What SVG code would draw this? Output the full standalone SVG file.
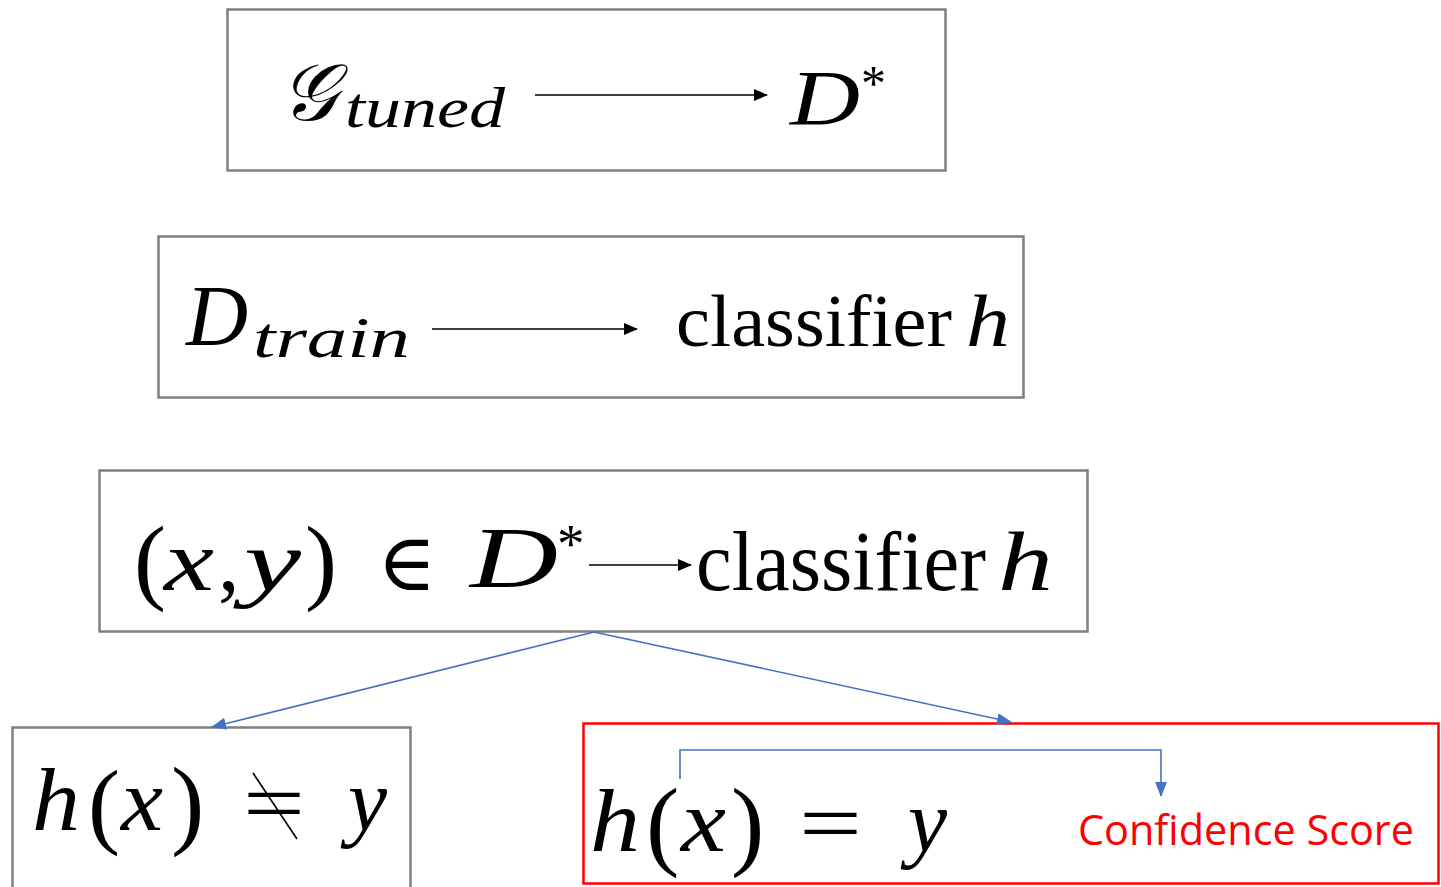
<svg xmlns="http://www.w3.org/2000/svg" width="1441" height="887" viewBox="0 0 1441 887">
<style>
.box{fill:#fff;stroke:#7f7f7f;stroke-width:2.5}
.red{fill:#fff;stroke:#ff0000;stroke-width:2.5}
.m{font-family:"Liberation Serif","DejaVu Serif",serif;fill:#000}
.i{font-style:italic}
.k{stroke:#000;stroke-width:1.6;fill:none}
.b{stroke:#4472C4;stroke-width:1.6;fill:none}
.cs{font-family:"Open Sans","Liberation Sans",sans-serif;fill:#ff0000}
</style>
<defs>
<marker id="ak" markerWidth="14" markerHeight="12" refX="13" refY="6" orient="auto" markerUnits="userSpaceOnUse" viewBox="0 0 14 12"><path d="M0,0 L14,6 L0,12 Z" fill="#000"/></marker>
<marker id="ab" markerWidth="15" markerHeight="12" refX="14" refY="6" orient="auto" markerUnits="userSpaceOnUse" viewBox="0 0 15 12"><path d="M0,0 L15,6 L0,12 Z" fill="#4472C4"/></marker>
</defs>
<rect width="1441" height="887" fill="#fff"/>
<g id="node-gtuned">
<rect class="box" x="227.5" y="9.5" width="718" height="161"/>
<text class="m i" x="280" y="120" font-size="80">𝒢</text>
<text class="m i" x="345" y="127" font-size="58" textLength="160" lengthAdjust="spacingAndGlyphs">tuned</text>
<text class="m i" x="790" y="124" font-size="78" textLength="70" lengthAdjust="spacingAndGlyphs">D</text>
<text class="m" x="861" y="100" font-size="50">*</text>
</g>
<g id="node-dtrain">
<rect class="box" x="158.5" y="236.5" width="865" height="161"/>
<text class="m i" x="186" y="345" font-size="86">D</text>
<text class="m i" x="253" y="357" font-size="58" textLength="157" lengthAdjust="spacingAndGlyphs">train</text>
<text class="m" x="676" y="346" font-size="74" textLength="276" lengthAdjust="spacingAndGlyphs">classifier</text>
<text class="m i" x="966" y="346" font-size="74" textLength="44" lengthAdjust="spacingAndGlyphs">h</text>
</g>
<g id="node-sample">
<rect class="box" x="99.5" y="470.5" width="988" height="161"/>
<text class="m" x="134" y="592" font-size="96">(</text>
<text class="m i" x="164" y="590" font-size="86" textLength="50" lengthAdjust="spacingAndGlyphs">x</text>
<text class="m" x="218" y="590" font-size="86">,</text>
<text class="m i" x="244" y="590" font-size="86" textLength="57" lengthAdjust="spacingAndGlyphs">y</text>
<text class="m" x="305" y="592" font-size="96">)</text>
<text class="m" x="377" y="590" font-size="80">∈</text>
<text class="m i" x="470" y="587" font-size="86" textLength="88" lengthAdjust="spacingAndGlyphs">D</text>
<text class="m" x="557" y="562" font-size="55">*</text>
<text class="m" x="696" y="590" font-size="84" textLength="290" lengthAdjust="spacingAndGlyphs">classifier</text>
<text class="m i" x="998" y="590" font-size="84" textLength="55" lengthAdjust="spacingAndGlyphs">h</text>
</g>
<g id="node-wrong">
<rect class="box" x="12.5" y="727.5" width="398" height="162"/>
<text class="m i" x="32" y="830" font-size="88" textLength="48" lengthAdjust="spacingAndGlyphs">h</text>
<text class="m" x="88" y="836" font-size="96">(</text>
<text class="m i" x="121" y="830" font-size="88" textLength="42" lengthAdjust="spacingAndGlyphs">x</text>
<text class="m" x="171" y="836" font-size="100">)</text>
<text class="m" x="243" y="832" font-size="84" textLength="62" lengthAdjust="spacingAndGlyphs">=</text>
<line class="k" x1="253" y1="773" x2="297" y2="839" stroke-width="1.3"/>
<text class="m i" x="348" y="830" font-size="88">y</text>
</g>
<g id="node-right">
<rect class="red" x="583.5" y="723.5" width="855" height="160"/>
<text class="m i" x="590" y="851" font-size="88" textLength="50" lengthAdjust="spacingAndGlyphs">h</text>
<text class="m" x="646" y="857" font-size="100">(</text>
<text class="m i" x="681" y="851" font-size="88" textLength="45" lengthAdjust="spacingAndGlyphs">x</text>
<text class="m" x="731" y="857" font-size="100">)</text>
<text class="m" x="799" y="852" font-size="84" textLength="63" lengthAdjust="spacingAndGlyphs">=</text>
<text class="m i" x="908" y="851" font-size="88">y</text>
<text class="cs" x="1078" y="845" font-size="42" textLength="336" lengthAdjust="spacingAndGlyphs">Confidence Score</text>
</g>
<g id="connectors">
<line class="k" x1="535" y1="95" x2="767" y2="95" marker-end="url(#ak)"/>
<line class="k" x1="432" y1="329" x2="637" y2="329" marker-end="url(#ak)"/>
<line class="k" x1="589" y1="565" x2="691" y2="565" marker-end="url(#ak)"/>
<line class="b" x1="594" y1="632" x2="212" y2="727" marker-end="url(#ab)"/>
<line class="b" x1="594" y1="632" x2="1011" y2="722" marker-end="url(#ab)"/>
<polyline class="b" points="680,779 680,750 1161,750 1161,796" marker-end="url(#ab)"/>
</g>
</svg>
